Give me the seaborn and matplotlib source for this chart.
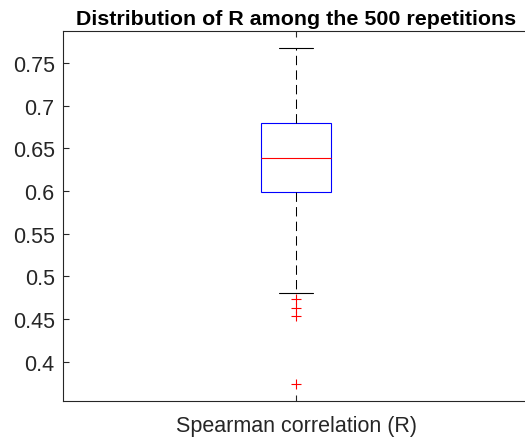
import numpy as np
import pandas as pd
import matplotlib
matplotlib.use("Agg")
import matplotlib.pyplot as plt
import seaborn as sns

# Spearman R values (outliers, whisker ends, quartiles)
r_values = [0.3735, 0.4535, 0.4625, 0.4739, 0.480,
            0.599, 0.608, 0.617, 0.625, 0.632,
            0.639, 0.646, 0.655, 0.664, 0.672,
            0.680, 0.695, 0.712, 0.730, 0.750, 0.7676]
category = ["Spearman correlation (R)"] * len(r_values)
y_ticks = [0.4, 0.45, 0.5, 0.55, 0.6, 0.65, 0.7, 0.75]
y_tick_labels = ["0.4", "0.45", "0.5", "0.55", "0.6", "0.65", "0.7", "0.75"]

df = pd.DataFrame({"group": category, "R": r_values})

sns.set_style("ticks")
plt.rcParams["font.family"] = ["Liberation Sans", "DejaVu Sans"]

grey = "#262626"
fig = plt.figure(figsize=(5.25, 4.39), dpi=100)
ax = fig.add_axes([63 / 525, 37 / 439, 466 / 525, 370 / 439])

sns.boxplot(data=df, x="group", y="R", ax=ax, width=0.15, whis=1.5,
            boxprops=dict(facecolor="none", edgecolor="blue", linewidth=0.8),
            medianprops=dict(color="red", linewidth=0.8),
            whiskerprops=dict(color="black", linewidth=0.75, linestyle=(0, (9, 5))),
            capprops=dict(color="black", linewidth=0.8),
            flierprops=dict(marker="+", markeredgecolor="red", markersize=7,
                            markeredgewidth=0.8))

ax.set_xlim(-0.5, 0.5)
ax.set_ylim(0.354, 0.7875)
ax.set_yticks(y_ticks)
ax.set_yticklabels(y_tick_labels)
ax.set_xlabel("")
ax.set_ylabel("")
ax.set_title("Distribution of R among the 500 repetitions",
             fontsize=15.4, fontweight="bold", color="black", pad=5)

for side in ["left", "bottom", "top", "right"]:
    ax.spines[side].set_visible(True)
    ax.spines[side].set_color(grey)
    ax.spines[side].set_linewidth(0.8)

ax.tick_params(axis="both", direction="in", length=4, width=0.8,
               colors=grey, labelsize=15.5, labelcolor=grey)
ax.tick_params(axis="y", pad=6)
ax.tick_params(axis="x", top=True, pad=10)

plt.savefig("out.png", dpi=100)
